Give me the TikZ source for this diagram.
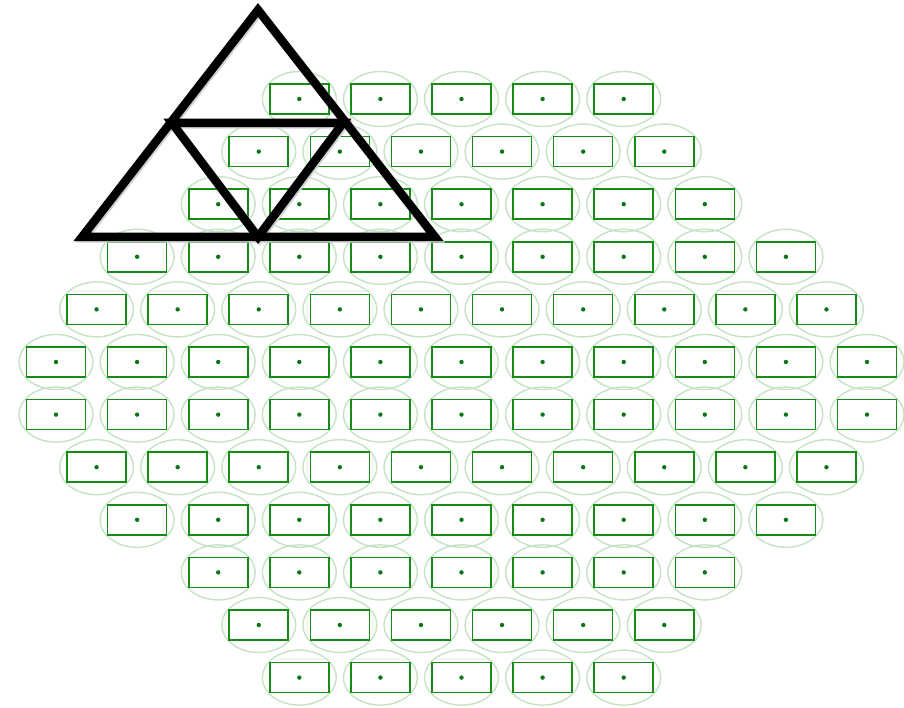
\documentclass[tikz,border=0pt]{standalone}
\definecolor{ringgreen}{RGB}{196,226,196}
\definecolor{boxgreen}{RGB}{22,140,22}
\definecolor{dotgreen}{RGB}{8,118,20}
\tikzset{
  ring/.style={draw=ringgreen,line width=1.4pt},
  cellbox/.style={draw=boxgreen,line width=1.6pt},
  celldot/.style={fill=dotgreen},
  triline/.style={draw=black,line width=8.5pt,line join=miter,line cap=rect}
}
\begin{document}
\begin{tikzpicture}[x=1pt,y=-1pt]
\useasboundingbox (0,0) rectangle (904,708);
% rows: index / half offset / first k / last k
\def\rows{0/0/3/7,1/0.5/2/7,2/0/2/8,3/0/1/9,4/0.5/0/9,5/0/0/10,6/0/0/10,7/0.5/0/9,8/0/1/9,9/0/2/8,10/0.5/2/7,11/0/3/7}
\foreach \r/\o/\a/\b in \rows {
  \foreach \k in {\a,...,\b} {
    \draw[ring] ({56+81.1*(\k+\o)},{99+52.6*\r}) ellipse [x radius=37, y radius=27.5];
  }
}
\foreach \r/\o/\a/\b in \rows {
  \foreach \k in {\a,...,\b} {
    \coordinate (c\r-\k) at ({56+81.1*(\k+\o)},{99+52.6*\r});
    \draw[cellbox] ([shift={(-29.5,-15)}]c\r-\k) rectangle ([shift={(29.5,15)}]c\r-\k);
    \fill[celldot] (c\r-\k) circle [radius=2.2];
  }
}
% triangles
\coordinate (apex) at (258,10);
\coordinate (bl) at (82,237);
\coordinate (br) at (435,237);
\coordinate (ml) at (172,123);
\coordinate (mr) at (343,123);
\coordinate (mb) at (258,237);
\draw[black!18,line width=8.5pt,line join=miter,transform canvas={shift={(1.5pt,-1.5pt)}}] (apex) -- (bl) -- (br) -- cycle (ml) -- (mr) -- (mb) -- cycle;
\draw[triline] (apex) -- (bl) -- (br) -- cycle;
\draw[triline] (ml) -- (mr) -- (mb) -- cycle;
\end{tikzpicture}
\end{document}
